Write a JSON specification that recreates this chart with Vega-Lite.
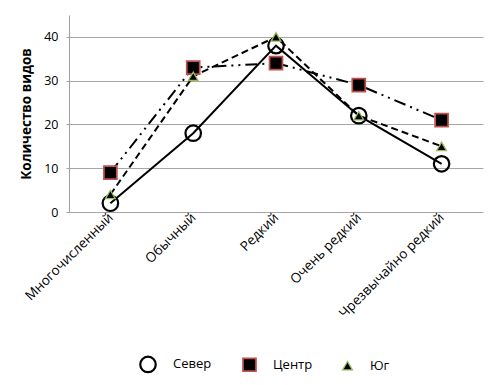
{
  "$schema": "https://vega.github.io/schema/vega-lite/v6.json",
  "autosize": {"type": "none"},
  "width": 414,
  "height": 197,
  "padding": {"left": 69, "top": 15, "right": 17, "bottom": 173},
  "background": "white",
  "config": {
    "font": "Open Sans",
    "view": {"stroke": null},
    "axis": {"labelFont": "Open Sans", "labelColor": "#000", "titleFont": "Open Sans"},
    "legend": {
      "title": null, "orient": "none", "legendX": 70, "legendY": 340, "direction": "horizontal",
      "labelFontSize": 13, "labelFont": "Open Sans", "labelColor": "#000", "columnPadding": 27, "labelOffset": 16
    }
  },
  "data": {
    "values": [
      {"cat": "Многочисленный", "series": "Север", "v": 2},
      {"cat": "Обычный", "series": "Север", "v": 18},
      {"cat": "Редкий", "series": "Север", "v": 38},
      {"cat": "Очень редкий", "series": "Север", "v": 22},
      {"cat": "Чрезвычайно редкий", "series": "Север", "v": 11},
      {"cat": "Многочисленный", "series": "Центр", "v": 9},
      {"cat": "Обычный", "series": "Центр", "v": 33},
      {"cat": "Редкий", "series": "Центр", "v": 34},
      {"cat": "Очень редкий", "series": "Центр", "v": 29},
      {"cat": "Чрезвычайно редкий", "series": "Центр", "v": 21},
      {"cat": "Многочисленный", "series": "Юг", "v": 4},
      {"cat": "Обычный", "series": "Юг", "v": 31},
      {"cat": "Редкий", "series": "Юг", "v": 40},
      {"cat": "Очень редкий", "series": "Юг", "v": 22},
      {"cat": "Чрезвычайно редкий", "series": "Юг", "v": 15}
    ]
  },
  "encoding": {
    "x": {
      "field": "cat", "type": "nominal",
      "sort": ["Многочисленный", "Обычный", "Редкий", "Очень редкий", "Чрезвычайно редкий"],
      "scale": {"type": "point", "padding": 0.5},
      "axis": {"title": null, "labelAngle": -45, "labelAlign": "right", "labelBaseline": "middle", "labelFontSize": 13.5, "domain": false, "ticks": false, "labelPadding": 3}
    },
    "y": {
      "field": "v", "type": "quantitative",
      "scale": {"domain": [0, 45], "nice": false},
      "axis": {"title": "Количество видов", "titleFontSize": 13.5, "titleFontWeight": "bold", "titleColor": "#000", "labelFontSize": 12.5, "values": [0, 10, 20, 30, 40], "domainColor": "#a0a0a0", "gridColor": "#a6a6a6", "tickColor": "#a6a6a6", "tickSize": 3, "labelPadding": 8, "titlePadding": 10}
    }
  },
  "layer": [
    {
      "transform": [{"filter": "datum.series === 'Север'"}],
      "mark": {"type": "line", "strokeWidth": 2, "color": "#000"},
      "encoding": {}
    },
    {
      "transform": [{"filter": "datum.series === 'Центр'"}],
      "mark": {"type": "line", "strokeWidth": 2, "color": "#000", "strokeDash": [12, 5, 2, 5, 2, 5]},
      "encoding": {}
    },
    {
      "transform": [{"filter": "datum.series === 'Юг'"}],
      "mark": {"type": "line", "strokeWidth": 2, "color": "#000", "strokeDash": [7, 4]},
      "encoding": {}
    },
    {
      "mark": {"type": "point", "filled": false, "opacity": 1},
      "encoding": {
        "fill": {
          "field": "series", "type": "nominal",
          "scale": {"domain": ["Север", "Центр", "Юг"], "range": ["transparent", "#000", "#000"]},
          "legend": {
            "encode": {
              "symbols": {
                "size": {"value": 64},
                "stroke": {"value": "#000"},
                "strokeWidth": {"value": 1.8},
                "shape": {"value": {"signal": "datum.value === 'Север' ? 'M-4.2,0H-0.95M0.95,0H4.2M0.95,0A0.95,0.95,0,1,1,-0.95,0A0.95,0.95,0,1,1,0.95,0' : datum.value === 'Центр' ? 'M-4.2,0H-1.1M-1.1,-1.1H1.1V1.1H-1.1ZM3.9,0H4.3' : 'M-4.2,0H-2.4M-1.2,0.8L0,-1L1.2,0.8ZM1.4,0H2.9'"}}
              }
            }
          }
        },
        "shape": {
          "field": "series", "type": "nominal",
          "scale": {"domain": ["Север", "Центр", "Юг"], "range": ["circle", "square", "triangle-up"]}
        },
        "stroke": {
          "field": "series", "type": "nominal",
          "scale": {"domain": ["Север", "Центр", "Юг"], "range": ["#000", "#c0504d", "#9bbb59"]}
        },
        "strokeWidth": {
          "field": "series", "type": "nominal",
          "scale": {"domain": ["Север", "Центр", "Юг"], "range": [2.2, 1.3, 1.3]}
        },
        "size": {
          "field": "series", "type": "nominal",
          "scale": {"domain": ["Север", "Центр", "Юг"], "range": [240, 95, 150]}
        }
      }
    }
  ]
}
